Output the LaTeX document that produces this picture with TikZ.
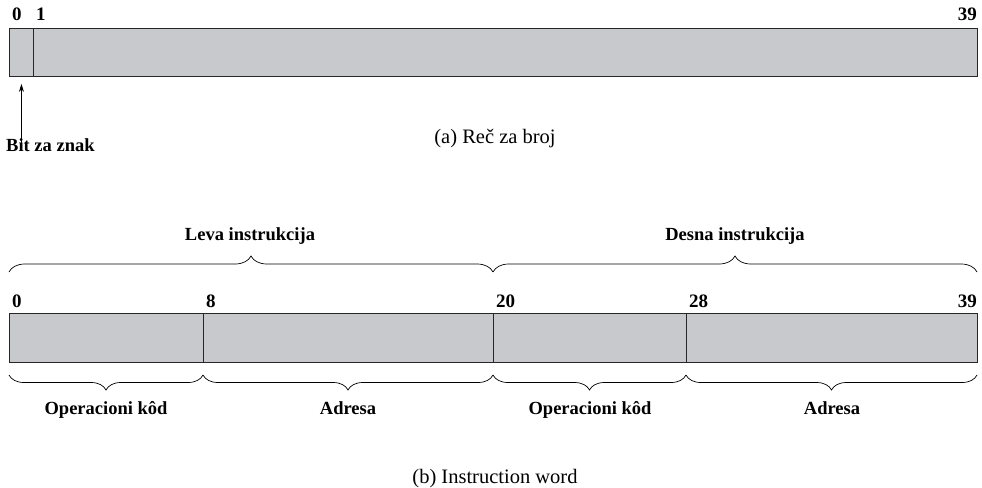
\documentclass[tikz,border=0pt]{standalone}
\usepackage{fontspec}
\setmainfont{Liberation Serif}
\usetikzlibrary{arrows.meta,decorations.pathreplacing}
\definecolor{fieldgray}{RGB}{200,201,204}
\begin{document}
\begin{tikzpicture}[x=1pt,y=-1pt,
  field/.style={draw=black!85,line width=0.9pt,fill=fieldgray,inner sep=0pt,anchor=north west},
  bitno/.style={inner sep=0pt,font=\fontsize{19}{21}\selectfont\bfseries},
  lbl/.style={inner sep=0pt,anchor=base,font=\fontsize{18.5}{21}\selectfont\bfseries},
  caption/.style={inner sep=0pt,anchor=base,font=\fontsize{20.5}{23}\selectfont},
  bracetop/.style={decorate,line width=0.7pt,decoration={brace,amplitude=16pt}},
  bracebot/.style={decorate,line width=0.7pt,decoration={brace,mirror,amplitude=15pt}}]
\useasboundingbox (0,0) rectangle (982,487);

% (a) number word
\node[field,minimum width=24pt,minimum height=48pt] (sign) at (9,28) {};
\node[field,minimum width=944pt,minimum height=48pt] (mag) at (33,28) {};
\node[bitno,anchor=base west] (a0) at (12,21) {0};
\node[bitno,anchor=base west] (a1) at (36,21) {1};
\node[bitno,anchor=base east] (a39) at (977,21) {39};
\node[lbl,anchor=base west] (bit) at (6,151) {Bit za znak};
\draw[line width=0.8pt,-{Stealth[length=8pt,width=5pt]},shorten >=7pt]
  ([yshift=-5pt]sign.south |- bit.north) -- (sign.south);
\node[caption] (capa) at (495,143) {(a) Reč za broj};

% (b) instruction word
\node[field,minimum width=194pt,minimum height=49pt] (op1) at (9,313) {};
\node[field,minimum width=290pt,minimum height=49pt] (ad1) at (203,313) {};
\node[field,minimum width=193pt,minimum height=49pt] (op2) at (493,313) {};
\node[field,minimum width=291pt,minimum height=49pt] (ad2) at (686,313) {};
\node[bitno,anchor=base west] (b0) at (12,307) {0};
\node[bitno,anchor=base west] (b8) at (206,307) {8};
\node[bitno,anchor=base west] (b20) at (496,307) {20};
\node[bitno,anchor=base west] (b28) at (689,307) {28};
\node[bitno,anchor=base east] (b39) at (977,307) {39};

\draw[bracetop] (9,272) -- (493,272);
\draw[bracetop] (493,272) -- (977,272);
\node[lbl] (leva) at (250,240) {Leva instrukcija};
\node[lbl] (desna) at (735,240) {Desna instrukcija};

\draw[bracebot] (9,375) -- (203,375);
\draw[bracebot] (203,375) -- (493,375);
\draw[bracebot] (493,375) -- (686,375);
\draw[bracebot] (686,375) -- (977,375);
\node[lbl] (opk1) at (106,414) {Operacioni kôd};
\node[lbl] (adr1) at (348,414) {Adresa};
\node[lbl] (opk2) at (590,414) {Operacioni kôd};
\node[lbl] (adr2) at (832,414) {Adresa};

\node[caption] (capb) at (495,483) {(b) Instruction word};
\end{tikzpicture}
\end{document}
